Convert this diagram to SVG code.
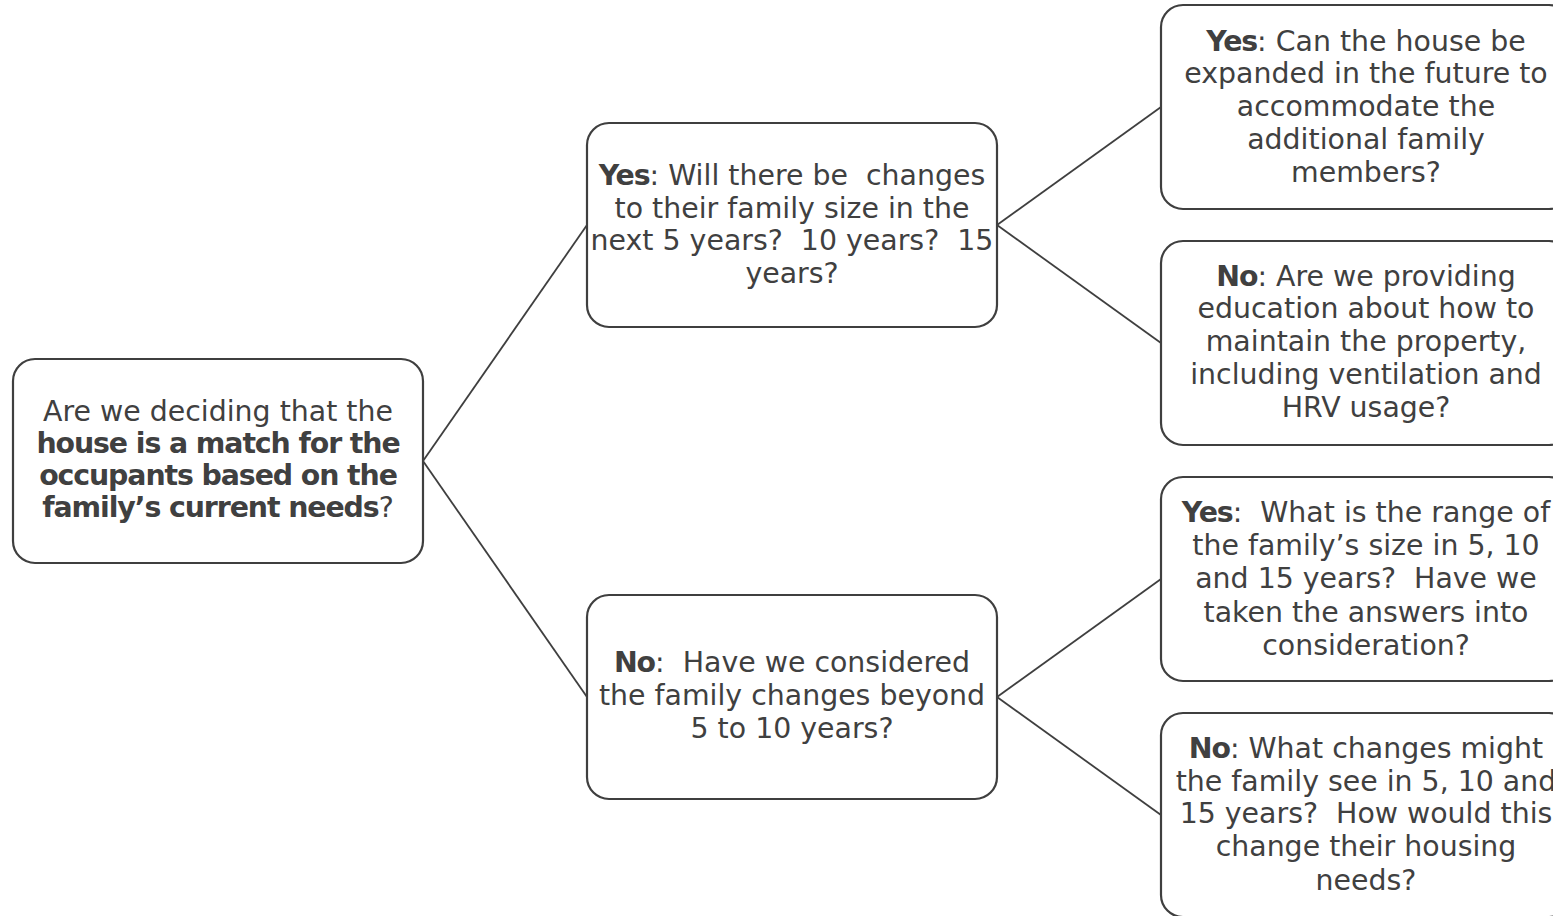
<svg xmlns="http://www.w3.org/2000/svg" width="1553" height="916" viewBox="0 0 1553 916">
<style>
.box{fill:#fff;stroke:#3f3f3f;stroke-width:2.2}
.t{font-family:"DejaVu Sans",sans-serif;font-size:28.4px;fill:#404040;text-anchor:middle;white-space:pre}
.b{font-weight:bold;letter-spacing:-1.1px}
.c{stroke:#3f3f3f;stroke-width:1.8;fill:none}
</style>
<rect width="1553" height="916" fill="#fff"/>
<g id="connectors">
<line class="c" x1="423" y1="461" x2="587" y2="225"/>
<line class="c" x1="423" y1="461" x2="587" y2="697"/>
<line class="c" x1="997" y1="225" x2="1161" y2="107"/>
<line class="c" x1="997" y1="225" x2="1161" y2="343"/>
<line class="c" x1="997" y1="697" x2="1161" y2="579"/>
<line class="c" x1="997" y1="697" x2="1161" y2="815"/>
</g>
<g id="root">
<rect class="box" x="13" y="359" width="410" height="204" rx="22"/>
<text class="t" x="218" y="421">Are we deciding that the</text>
<text class="t b" x="218" y="453">house is a match for the</text>
<text class="t b" x="218" y="485">occupants based on the</text>
<text class="t" x="218" y="517"><tspan class="b">family’s current needs</tspan>?</text>
</g>
<g id="mid-yes">
<rect class="box" x="587" y="123" width="410" height="204" rx="22"/>
<text class="t" x="792" y="185" xml:space="preserve"><tspan class="b">Yes</tspan>: Will there be  changes</text>
<text class="t" x="792" y="218">to their family size in the</text>
<text class="t" x="792" y="250" xml:space="preserve">next 5 years?  10 years?  15</text>
<text class="t" x="792" y="283">years?</text>
</g>
<g id="mid-no">
<rect class="box" x="587" y="595" width="410" height="204" rx="22"/>
<text class="t" x="792" y="672" xml:space="preserve"><tspan class="b">No</tspan>:  Have we considered</text>
<text class="t" x="792" y="705">the family changes beyond</text>
<text class="t" x="792" y="738">5 to 10 years?</text>
</g>
<g id="r1">
<rect class="box" x="1161" y="5" width="410" height="204" rx="22"/>
<text class="t" x="1366" y="51"><tspan class="b">Yes</tspan>: Can the house be</text>
<text class="t" x="1366" y="83">expanded in the future to</text>
<text class="t" x="1366" y="116">accommodate the</text>
<text class="t" x="1366" y="149">additional family</text>
<text class="t" x="1366" y="182">members?</text>
</g>
<g id="r2">
<rect class="box" x="1161" y="241" width="410" height="204" rx="22"/>
<text class="t" x="1366" y="286"><tspan class="b">No</tspan>: Are we providing</text>
<text class="t" x="1366" y="318">education about how to</text>
<text class="t" x="1366" y="351">maintain the property,</text>
<text class="t" x="1366" y="384">including ventilation and</text>
<text class="t" x="1366" y="417">HRV usage?</text>
</g>
<g id="r3">
<rect class="box" x="1161" y="477" width="410" height="204" rx="22"/>
<text class="t" x="1366" y="522" xml:space="preserve"><tspan class="b">Yes</tspan>:  What is the range of</text>
<text class="t" x="1366" y="555">the family’s size in 5, 10</text>
<text class="t" x="1366" y="588" xml:space="preserve">and 15 years?  Have we</text>
<text class="t" x="1366" y="622">taken the answers into</text>
<text class="t" x="1366" y="655">consideration?</text>
</g>
<g id="r4">
<rect class="box" x="1161" y="713" width="410" height="204" rx="22"/>
<text class="t" x="1366" y="758"><tspan class="b">No</tspan>: What changes might</text>
<text class="t" x="1366" y="791">the family see in 5, 10 and</text>
<text class="t" x="1366" y="823" xml:space="preserve">15 years?  How would this</text>
<text class="t" x="1366" y="856">change their housing</text>
<text class="t" x="1366" y="890">needs?</text>
</g>
</svg>
